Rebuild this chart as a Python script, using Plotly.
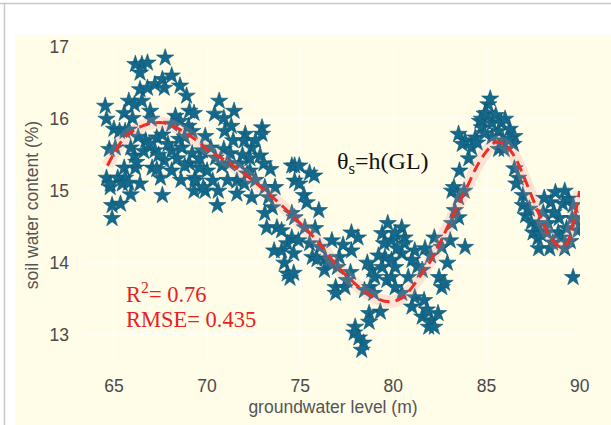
import plotly.graph_objects as go

# ---- data ----
gl = [
 64.53,64.6,64.75,64.6,64.8,64.9,65.35,64.9,65.0,65.3,65.55,65.8,66.1,66.15,66.5,66.8,66.4,67.75,
 66.4,66.8,67.2,67.6,68.1,67.7,68.55,68.9,66.5,66.95,66.0,68.3,69.05,68.55,65.6,65.07,66.1,65.55,
 66.15,65.2,65.6,64.8,65.45,65.8,67.05,67.5,67.6,66.7,67.2,67.7,68.1,68.1,68.65,69.05,69.3,69.35,
 68.5,69.2,68.1,67.3,
 70.65,71.45,70.4,70.9,69.3,72.95,72.95,72.05,72.0,69.9,70.95,72.4,72.3,72.85,73.05,70.9,70.45,
 70.0,69.6,69.35,70.3,69.9,70.55,71.6,71.6,72.15,72.0,72.4,73.1,73.65,73.3,73.5,73.1,73.2,73.75,
 74.0,73.6,74.0,74.3,74.15,74.3,74.45,74.55,74.7,74.55,74.55,74.65,71.2,71.25,71.75,69.2,69.75,72.3,
 74.7,74.95,75.5,75.75,74.95,75.2,75.35,76.0,74.7,75.25,75.8,74.9,75.5,76.05,76.7,77.75,77.75,
 75.65,76.35,77.1,76.3,77.0,77.7,76.9,76.9,77.4,77.5,74.65,78.85,79.0,78.75,79.3,78.7,78.7,77.95,
 77.9,78.15,78.4,78.3,79.4,79.5,79.55,79.4,79.65,79.9,79.9,79.9,78.95,78.45,
 80.45,80.1,80.6,81.15,81.7,80.45,80.1,81.0,81.55,82.2,82.6,83.05,82.45,82.6,82.75,80.1,80.45,
 81.15,81.65,81.0,81.55,82.05,81.9,82.2,83.15,83.3,83.5,83.15,83.25,83.5,83.8,83.55,84.05,83.85,
 83.7,84.2,84.4,83.5,84.65,84.9,84.75,85.1,83.85,80.6,
 85.2,84.75,85.0,85.3,85.65,86.25,86.5,85.9,85.65,85.95,86.45,84.5,86.5,86.7,86.6,86.95,86.95,
 87.1,87.4,87.5,87.75,87.8,88.55,88.05,88.7,88.45,89.1,89.4,88.9,88.85,89.3,89.2,88.25,87.8,89.6,
 89.65,89.65,
 65.9,66.3,66.6,66.9,66.2,65.8,67.4,67.9,68.4,68.8,69.6,69.0,67.0,67.6,68.8,66.4,65.9,68.6,69.8,67.3,
 70.2,70.8,71.4,71.9,72.6,70.6,71.1,72.6,73.4,71.3,
 85.5,85.8,86.0,86.2,85.3,84.9,
 87.3,87.9,88.3,88.6,89.0,89.5,89.8,88.1,89.2,89.9,88.4,
 75.9,76.6,77.3,78.1,78.6,79.2,79.7,80.2,
 81.3,82.0,82.9,81.8,82.4,80.8,
]
swc = [
 16.18,16.0,15.58,15.18,15.05,14.8,14.82,14.62,15.86,15.83,16.08,16.25,16.2,16.76,16.76,16.78,16.64,16.85,
 16.41,16.43,16.48,16.55,16.6,16.43,16.46,16.32,16.25,16.11,16.01,16.04,16.11,15.97,15.83,15.6,15.49,15.32,
 15.32,15.18,15.18,15.1,15.1,15.11,15.32,15.18,14.94,15.7,15.56,15.42,15.28,15.56,15.6,15.38,15.0,15.18,
 15.72,15.83,15.93,15.74,
 16.25,16.11,16.07,16.01,16.08,15.88,15.79,15.79,15.7,15.76,15.83,15.6,15.45,15.49,15.38,15.58,15.46,
 15.28,15.32,15.14,15.14,15.0,14.8,15.14,14.96,15.24,15.1,14.91,15.05,15.05,14.91,14.77,14.69,14.49,14.49,
 14.45,14.17,14.17,14.27,14.0,13.85,13.79,15.35,15.14,14.69,14.35,14.13,15.38,15.52,15.38,15.52,15.56,15.28,
 15.35,15.35,15.25,15.21,15.1,14.94,14.84,14.73,14.63,14.49,14.48,14.31,14.27,14.22,14.31,14.42,14.17,
 14.08,14.06,14.08,13.9,13.94,13.87,13.66,13.58,13.66,13.76,13.86,13.9,13.8,13.66,13.32,13.3,13.18,13.11,
 13.03,12.96,12.89,12.79,14.41,14.27,14.08,13.94,13.76,14.31,14.04,13.8,13.58,13.62,
 14.49,14.41,14.35,14.17,14.2,14.13,13.94,14.04,13.9,14.35,14.22,14.31,13.8,13.66,13.72,13.66,13.58,
 13.52,13.48,13.39,13.25,13.2,13.11,13.11,14.55,14.73,14.63,15.0,15.05,14.91,15.0,15.28,15.45,15.7,
 15.65,15.6,15.74,15.79,15.97,16.07,15.88,16.2,14.22,14.27,
 16.28,16.0,16.08,15.94,15.83,15.86,15.76,15.7,15.58,15.58,15.65,15.67,15.31,15.18,15.1,14.94,14.8,
 14.66,14.56,14.42,14.34,14.2,14.28,14.7,14.98,14.84,14.82,14.89,14.62,14.42,14.48,14.2,14.42,14.52,14.62,
 14.8,13.8,
 15.6,15.75,15.55,15.65,15.4,15.85,15.5,15.65,15.45,15.35,15.45,15.9,16.0,15.78,15.75,15.1,14.95,15.15,15.05,15.3,
 15.6,15.35,15.7,15.5,15.7,15.0,15.15,15.15,15.3,15.9,
 16.05,15.95,16.0,15.72,15.75,15.8,
 14.75,14.4,14.55,14.7,14.35,14.3,14.6,14.9,15.0,14.45,14.2,
 14.05,14.0,14.25,14.35,14.0,14.1,14.55,14.2,
 13.95,14.1,14.0,13.35,13.3,13.8,
]

fit_x = [64.65,65.0,65.5,66.0,66.5,67.0,67.5,68.0,68.5,69.0,69.5,70.0,71.0,72.0,73.0,74.0,75.0,
         76.0,77.0,78.0,79.0,79.8,80.5,81.0,81.5,82.0,82.5,83.0,83.5,84.0,84.5,85.0,85.5,86.0,
         86.5,87.0,87.5,88.0,88.5,89.0,89.3,89.6,90.0]
fit_y = [15.35,15.52,15.72,15.83,15.9,15.94,15.95,15.92,15.86,15.78,15.69,15.58,15.42,15.24,15.03,
         14.8,14.55,14.28,13.95,13.7,13.52,13.46,13.52,13.66,13.84,14.03,14.28,14.55,14.82,15.08,
         15.35,15.55,15.68,15.64,15.48,15.2,14.88,14.57,14.33,14.22,14.26,14.5,15.0]

x_ticks = [65, 70, 75, 80, 85, 90]
y_ticks = [13, 14, 15, 16, 17]

# ---- figure ----
fig = go.Figure()

fig.add_trace(go.Scatter(
    x=gl, y=swc, mode="markers",
    marker=dict(symbol="star", size=13, color="#15698a",
                line=dict(color="#0c5675", width=0.6)),
    showlegend=False, hoverinfo="skip"))

fig.add_trace(go.Scatter(
    x=fit_x, y=fit_y, mode="lines", line_shape="spline",
    line=dict(color="rgba(240,140,140,0.22)", width=12),
    showlegend=False, hoverinfo="skip"))

fig.add_trace(go.Scatter(
    x=fit_x, y=fit_y, mode="lines", line_shape="spline",
    line=dict(color="#ec2f25", width=3, dash="11px,6px"),
    showlegend=False, hoverinfo="skip"))

axis_font = dict(family="Liberation Sans, Arial, sans-serif", size=17.5, color="#4a4a4a")
title_font = dict(family="Liberation Sans, Arial, sans-serif", size=17.5, color="#555555")

fig.update_xaxes(range=[63.5, 90.02], tickvals=x_ticks, showgrid=True,
                 gridcolor="rgba(255,255,255,0.75)", gridwidth=1, zeroline=False,
                 showline=False, ticks="", tickfont=axis_font, ticklabelstandoff=10,
                 title=dict(text="groundwater level (m)", font=title_font, standoff=6))
fig.update_yaxes(range=[12.61, 17.0], tickvals=y_ticks, showgrid=True,
                 gridcolor="rgba(255,255,255,0.75)", gridwidth=1, zeroline=False,
                 showline=False, ticks="", tickfont=axis_font, ticklabelstandoff=16,
                 title=dict(text="soil water content (%)", font=title_font, standoff=6))

serif = "Liberation Serif, Times New Roman, serif"
fig.add_annotation(x=79.45, y=15.39, xref="x", yref="y", showarrow=False,
                   text="θ<sub>s</sub>=h(GL)", font=dict(family=serif, size=24, color="#111111"))
fig.add_annotation(x=65.56, y=13.58, xref="x", yref="y", showarrow=False, xanchor="left",
                   text="R<sup>2</sup>= 0.76", font=dict(family=serif, size=22.5, color="#e8211c"))
fig.add_annotation(x=65.56, y=13.21, xref="x", yref="y", showarrow=False, xanchor="left",
                   text="RMSE= 0.435", font=dict(family=serif, size=22.5, color="#e8211c"))

# outer cream panel and thin page borders
W, H = 611, 425
L, R, T, B = 86, 31, 47, 62
pw, ph = W - L - R, H - T - B
def px_x(p):
    return (p - L) / pw
def px_y(p):
    return (H - B - p) / ph

fig.add_shape(type="rect", xref="paper", yref="paper", layer="below",
              x0=px_x(15), x1=px_x(611), y0=px_y(35), y1=px_y(425),
              fillcolor="#fffce8", line=dict(width=0))
fig.add_shape(type="line", xref="paper", yref="paper",
              x0=px_x(0), x1=px_x(611), y0=px_y(3.5), y1=px_y(3.5),
              line=dict(color="#c9c9c9", width=1.5))
fig.add_shape(type="line", xref="paper", yref="paper",
              x0=px_x(4.5), x1=px_x(4.5), y0=px_y(3), y1=px_y(425),
              line=dict(color="#c9c9c9", width=1.5))

fig.update_layout(
    width=W, height=H,
    margin=dict(l=L, r=R, t=T, b=B, autoexpand=False),
    paper_bgcolor="white",
    plot_bgcolor="#fde7dc",
)

fig.write_html("out.html")
